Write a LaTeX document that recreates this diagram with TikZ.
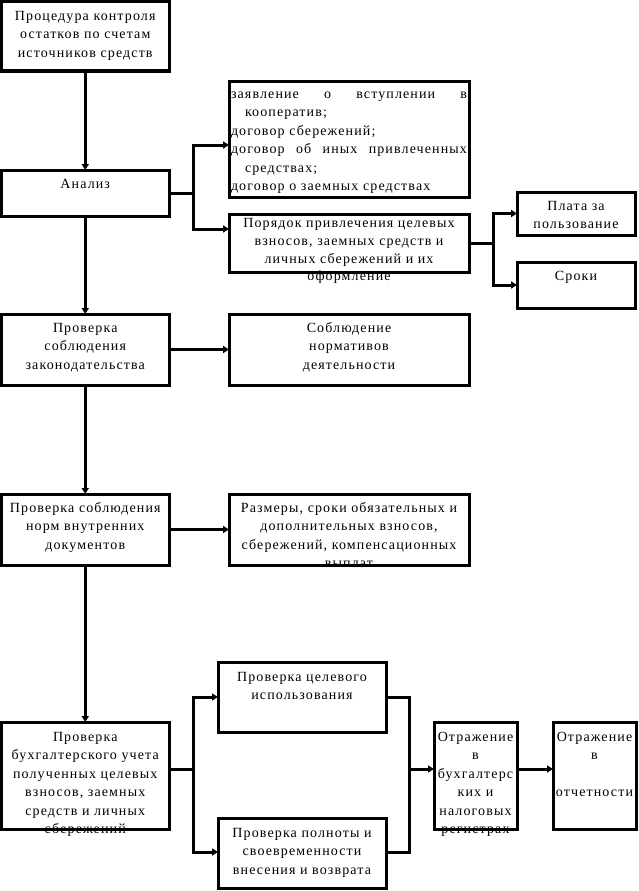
\documentclass[tikz,border=0pt]{standalone}
\usepackage{fontspec}
\setmainfont{Liberation Serif}[LetterSpace=8]
\usetikzlibrary{arrows.meta}
\begin{document}
\begin{tikzpicture}[x=1pt,y=-1pt,
  bx/.style={draw, line width=3pt, inner sep=0pt, outer sep=0pt, anchor=north west},
  txt/.style={inner sep=0pt, outer sep=0pt, align=center, anchor=north, font=\fontsize{14}{18.5}\selectfont},
  ln/.style={line width=3pt},
  arr/.style={line width=3pt, -{Triangle[length=6pt,width=7pt]}}]
\useasboundingbox (0,0) rectangle (639,891);
% boxes
\node[bx, minimum width=167.5pt, minimum height=69pt] (b1) at (1.5,2) {};
\node[bx, minimum width=167.5pt, minimum height=46pt] (an) at (1.5,170) {};
\node[bx, minimum width=167.5pt, minimum height=71pt] (zk) at (1.5,314) {};
\node[bx, minimum width=167.5pt, minimum height=71pt] (nr) at (1.5,494) {};
\node[bx, minimum width=167.5pt, minimum height=107pt] (bu) at (1.5,722) {};
\node[bx, minimum width=240pt, minimum height=116pt] (zv) at (229,81) {};
\node[bx, minimum width=240pt, minimum height=58pt] (po) at (229,214) {};
\node[bx, minimum width=240pt, minimum height=71pt] (sb) at (229,314) {};
\node[bx, minimum width=240pt, minimum height=71pt] (rz) at (229,494) {};
\node[bx, minimum width=118pt, minimum height=43pt] (pl) at (517,192) {};
\node[bx, minimum width=118pt, minimum height=46pt] (sr) at (517,262) {};
\node[bx, minimum width=168pt, minimum height=70pt] (ce) at (218,662) {};
\node[bx, minimum width=168pt, minimum height=70pt] (pn) at (218,818) {};
\node[bx, minimum width=83pt, minimum height=107pt] (o1) at (434,722) {};
\node[bx, minimum width=83pt, minimum height=107pt] (o2) at (553,722) {};
% texts
\node[txt] (t1) at (85.25,7.5) {\strut Процедура контроля\\остатков по счетам\\источников средств};
\node[txt] (tan) at (85.25,175.5) {\strut Анализ};
\node[txt] (tzk) at (85.25,319.5) {\strut Проверка\\соблюдения\\законодательства};
\node[txt] (tnr) at (85.25,499.5) {\strut Проверка соблюдения\\норм внутренних\\документов};
\node[txt] (tbu) at (85.25,728.5) {\strut Проверка\\бухгалтерского учета\\полученных целевых\\взносов, заемных\\средств и личных\\сбережений};
\node[txt, align=left, anchor=north west] (tzv) at (231,85.5) {\strut\hbox to 236pt{заявление\hfill о\hfill вступлении\hfill в}\\
  \hspace*{14pt}кооператив;\\договор сбережений;\\
  \hbox to 236pt{договор\hfill об\hfill иных\hfill привлеченных}\\
  \hspace*{14pt}средствах;\\договор о заемных средствах};
\node[txt, font=\fontsize{14}{17.7}\selectfont] (tpo) at (349,215.5) {\strut Порядок привлечения целевых\\взносов, заемных средств и\\личных сбережений и их\\оформление};
\node[txt] (tsb) at (349,319.5) {\strut Соблюдение\\нормативов\\деятельности};
\node[txt] (trz) at (349,499.5) {\strut Размеры, сроки обязательных и\\дополнительных взносов,\\сбережений, компенсационных\\выплат};
\node[txt] (tpl) at (576,197.5) {\strut Плата за\\пользование};
\node[txt] (tsr) at (576,267.5) {\strut Сроки};
\node[txt] (tce) at (302,668.5) {\strut Проверка целевого\\использования};
\node[txt] (tpn) at (302,824.5) {\strut Проверка полноты и\\своевременности\\внесения и возврата};
\node[txt] (to1) at (475.5,728.5) {\strut Отражение\\в\\бухгалтерс\\ких и\\налоговых\\регистрах};
\node[txt] (to2) at (594.5,728.5) {\strut Отражение\\в\\\strut\\отчетности};
% junction coordinates
\coordinate (fa) at (193,145);
\coordinate (fb) at (193,229);
\coordinate (ga) at (193,697);
\coordinate (gb) at (193,852);
\coordinate (gm) at (193,769);
\coordinate (ha) at (409,697);
\coordinate (hb) at (409,852);
\coordinate (hm) at (409,769);
% vertical main arrows
\draw[arr] (b1.south) -- (an.north);
\draw[arr] (an.south) -- (zk.north);
\draw[arr] (zk.south) -- (nr.north);
\draw[arr] (nr.south) -- (bu.north);
% analysis branches
\draw[ln] (an.east) -- (an.east -| fa);
\draw[arr] (an.east -| fa) -- (fa) -- (fa -| zv.west);
\draw[arr] (an.east -| fa) -- (fb) -- (fb -| po.west);
% order branches
\draw[arr] (po.east) -- ++(24,0) |- (pl.west);
\draw[arr] (po.east) -- ++(24,0) |- (sr.west);
% side arrows
\draw[arr] (zk.east) -- (sb.west);
\draw[arr] (nr.east) -- (rz.west);
% bottom branches
\draw[ln] (bu.east |- gm) -- (gm);
\draw[arr] (gm) -- (ga) -- (ga -| ce.west);
\draw[arr] (gm) -- (gb) -- (gb -| pn.west);
\draw[ln] (ce.east |- ha) -- (ha) -- (hb) -- (pn.east |- hb);
\draw[arr] (hm) -- (hm -| o1.west);
\draw[arr] (o1.east |- hm) -- (o2.west |- hm);
\end{tikzpicture}
\end{document}
